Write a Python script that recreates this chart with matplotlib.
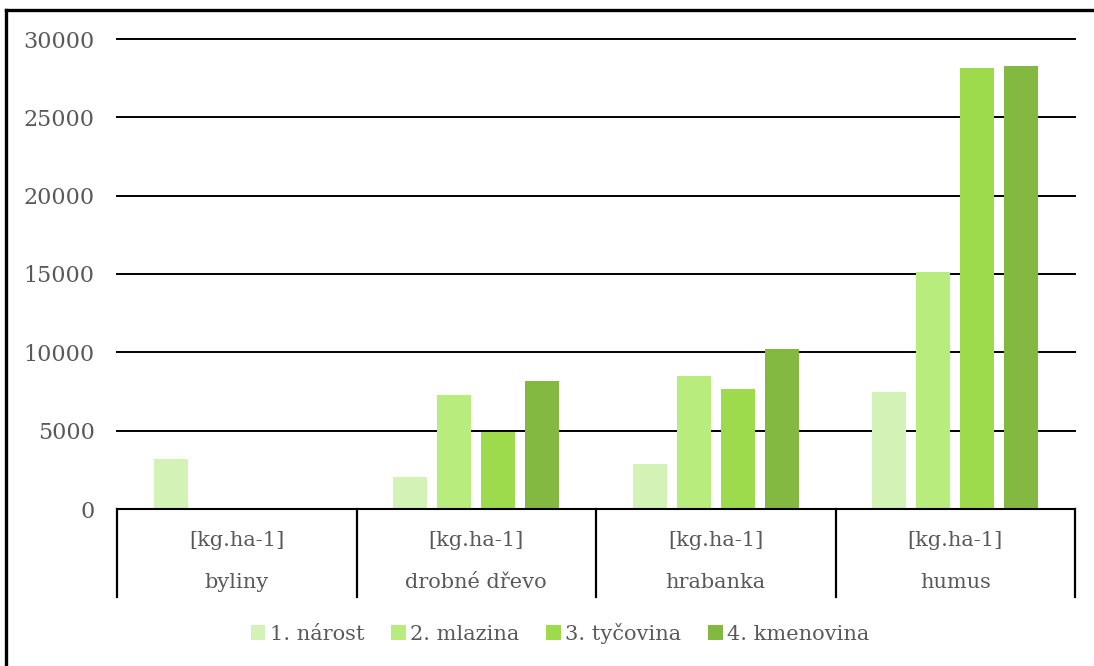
import matplotlib
matplotlib.use("Agg")
import matplotlib.pyplot as plt
from matplotlib.lines import Line2D
from matplotlib.patches import Patch
import matplotlib.transforms as mtransforms
import numpy as np

# Data: dry biomass per hectare by forest development stage
categories = ["byliny", "drobné dřevo", "hrabanka", "humus"]
unit_label = "[kg.ha-1]"
series_names = ["1. nárost", "2. mlazina", "3. tyčovina", "4. kmenovina"]
narost = [3200, 2050, 2870, 7470]
mlazina = [0, 7280, 8490, 15120]
tycovina = [0, 4910, 7660, 28140]
kmenovina = [0, 8170, 10210, 28270]
yticks = [0, 5000, 10000, 15000, 20000, 25000, 30000]

colors = ["#d3f3b6", "#b8ec7d", "#9edb4c", "#83b940"]
text_color = "#595959"
font = "DejaVu Serif"
fs = 15

W, H = 1094, 666
fig = plt.figure(figsize=(W / 100, H / 100), dpi=100)
ax = fig.add_axes([117 / W, 1 - 509 / H, (1075 - 117) / W, (509 - 39) / H])

values = [narost, mlazina, tycovina, kmenovina]
x = np.arange(len(categories))
step = 0.1837
width = 0.142
for k, (vals, col, name) in enumerate(zip(values, colors, series_names)):
    ax.bar(x + (k - 1.5) * step, vals, width=width, color=col, label=name, zorder=3)

ax.set_xlim(-0.5, len(categories) - 0.5)
ax.set_ylim(0, 30000)
ax.set_yticks(yticks)
ax.set_yticklabels([str(v) for v in yticks], fontsize=fs + 1, family=font, color=text_color)
ax.tick_params(axis="y", length=0, pad=16)
ax.set_xticks([])
ax.set_axisbelow(True)
ax.grid(axis="y", color="black", linewidth=1.4, zorder=1)
for gl in ax.get_ygridlines():
    gl.set_clip_on(False)
for s in ["top", "right", "left"]:
    ax.spines[s].set_visible(False)
ax.spines["bottom"].set_color("black")
ax.spines["bottom"].set_linewidth(1.5)
ax.spines["bottom"].set_zorder(4)

# Two-level category axis below the plot
trans = mtransforms.blended_transform_factory(ax.transData, ax.transAxes)
sep_bottom = -(597 - 509) / (509 - 39)
for b in np.arange(len(categories) + 1) - 0.5:
    ax.add_line(Line2D([b, b], [0, sep_bottom], transform=trans, color="black",
                       linewidth=1.6, clip_on=False))
for i, cat in enumerate(categories):
    ax.text(i, -(540 - 509) / 470, unit_label, transform=trans, ha="center", va="center",
            fontsize=fs, family=font, color=text_color)
    ax.text(i, -(582 - 509) / 470, cat, transform=trans, ha="center", va="center",
            fontsize=fs, family=font, color=text_color)

handles = [Patch(facecolor=c, edgecolor="none") for c in colors]
fig.legend(handles, series_names, loc="center", bbox_to_anchor=(560 / W, 1 - 633 / H),
           ncol=4, frameon=False, handlelength=0.7, handleheight=0.7,
           handletextpad=0.2, columnspacing=1.3,
           prop={"family": font, "size": fs}, labelcolor=text_color)

# Outer chart frame (left and top edges)
fig.add_artist(Line2D([6 / W, 6 / W], [0, 1 - 10 / H], transform=fig.transFigure,
                      color="black", linewidth=2.4))
fig.add_artist(Line2D([6 / W, 1], [1 - 10 / H, 1 - 10 / H], transform=fig.transFigure,
                      color="black", linewidth=2.4))

fig.savefig("out.png", dpi=100, facecolor="white")
